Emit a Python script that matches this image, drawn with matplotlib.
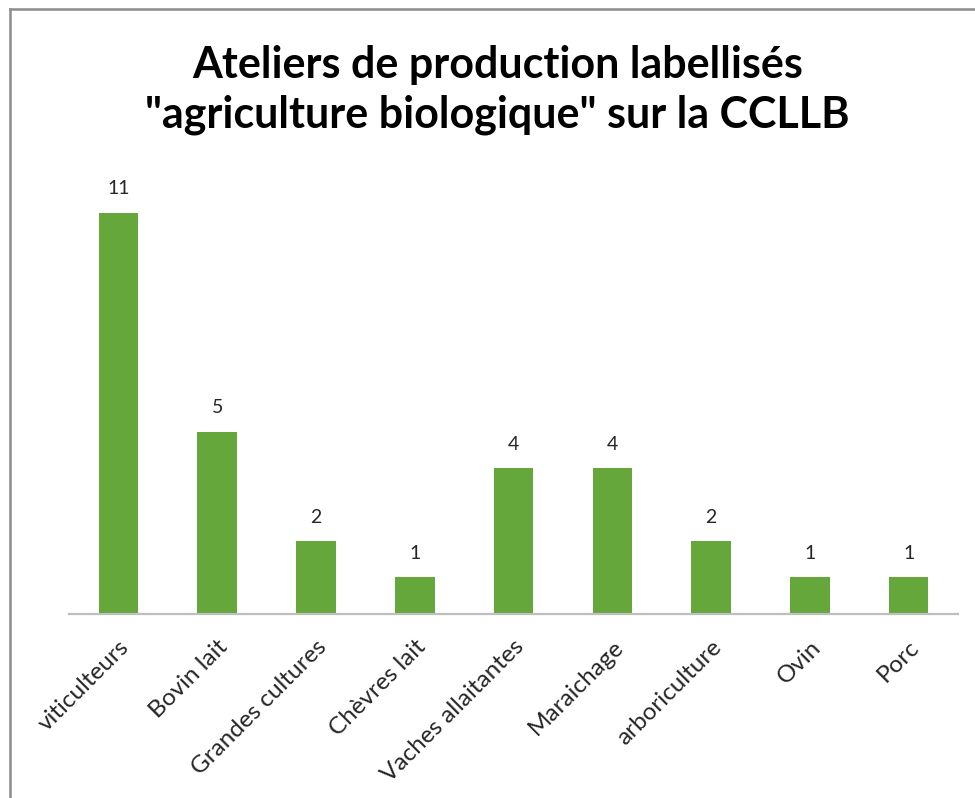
import matplotlib.pyplot as plt
from matplotlib.lines import Line2D

categories = ['viticulteurs', 'Bovin lait', 'Grandes cultures', 'Chèvres lait',
              'Vaches allaitantes', 'Maraichage', 'arboriculture', 'Ovin', 'Porc']
counts = [11, 5, 2, 1, 4, 4, 2, 1, 1]

plt.rcParams['font.family'] = ['Lato', 'DejaVu Sans']

fig = plt.figure(figsize=(9.75, 7.98), dpi=100)
ax = fig.add_axes([0.0708, 0.2306, 0.9118, 0.5488])

x = range(len(categories))
bars = ax.bar(x, counts, width=0.4, color='#65A73B')
for b, v in zip(bars, counts):
    ax.text(b.get_x() + b.get_width() / 2, v + 0.42, str(v),
            ha='center', va='bottom', fontsize=14, color='#262626')

ax.set_xlim(-0.5, len(categories) - 0.5)
ax.set_ylim(0, 12)
ax.set_yticks([])
ax.set_xticks(list(x))
ax.set_xticklabels(categories, rotation=45, ha='right', rotation_mode='anchor',
                   fontsize=17.5, color='#262626')
ax.tick_params(axis='x', length=0, pad=16)
for s in ['top', 'right', 'left']:
    ax.spines[s].set_visible(False)
ax.spines['bottom'].set_color('#BFBFBF')
ax.spines['bottom'].set_linewidth(1.6)

fig.text(0.51, 0.887, 'Ateliers de production labellisés\n"agriculture biologique" sur la CCLLB',
         ha='center', va='center', fontsize=31, fontweight='bold',
         linespacing=1.3, color='black')

# outer frame, left and top edges only
fig.add_artist(Line2D([10 / 975, 10 / 975], [0, 1 - 9 / 798], color='#8C8C8C', lw=1.8))
fig.add_artist(Line2D([10 / 975, 1], [1 - 9 / 798, 1 - 9 / 798], color='#8C8C8C', lw=1.8))

fig.savefig('out.png', dpi=100)
